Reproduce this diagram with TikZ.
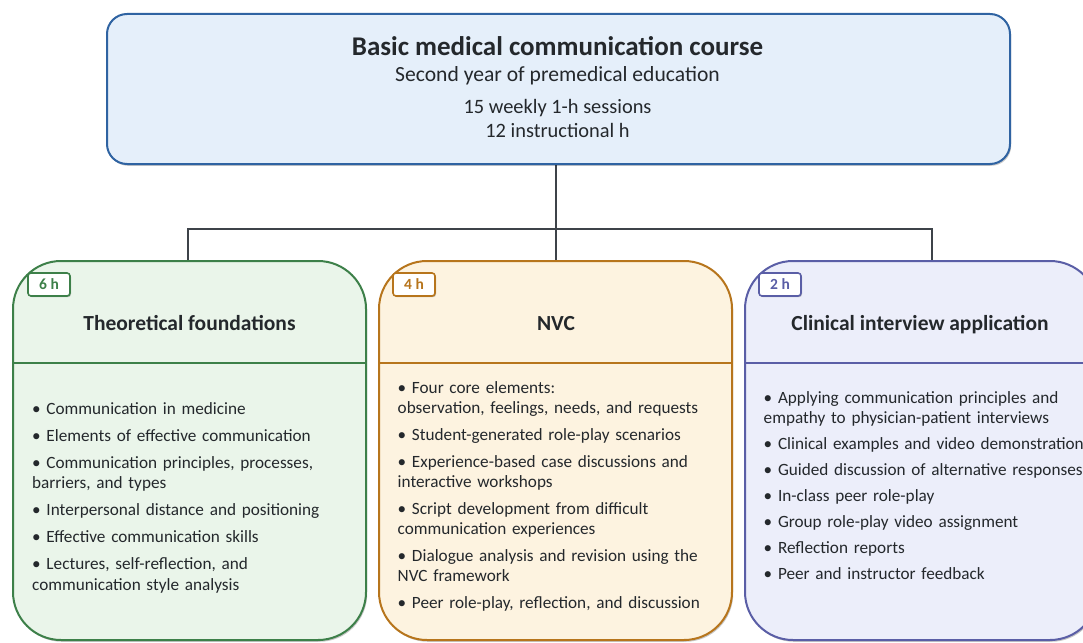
\documentclass[tikz,border=0pt]{standalone}
\usepackage{fontspec}
\setmainfont{Carlito}
\usetikzlibrary{calc,shadows,backgrounds}

\definecolor{inkText}{HTML}{24282C}
\definecolor{connGray}{HTML}{3E4349}
\definecolor{courseFill}{HTML}{E5EFFA}
\definecolor{courseLine}{HTML}{2F63A2}
\definecolor{tfFill}{HTML}{EAF5EA}
\definecolor{tfLine}{HTML}{3D8049}
\definecolor{nvcFill}{HTML}{FDF3E0}
\definecolor{nvcLine}{HTML}{B7751C}
\definecolor{ciaFill}{HTML}{ECEEFA}
\definecolor{ciaLine}{HTML}{5A5EA6}

\begin{document}
\begin{tikzpicture}[
  x=1pt, y=-1pt,
  softshadow/.style={drop shadow={shadow xshift=1.2pt, shadow yshift=-1.8pt, opacity=0.22, fill=black}},
  topbox/.style={draw=courseLine, fill=courseFill, line width=2pt, rounded corners=20pt,
    minimum width=903pt, minimum height=150pt, inner sep=0pt, softshadow},
  colbox/.style 2 args={draw=#1, fill=#2, line width=2pt, rounded corners=48pt,
    minimum width=353pt, minimum height=379pt, inner sep=0pt, softshadow},
  badge/.style={draw=#1, fill=white, text=#1, line width=1.6pt, rounded corners=3pt,
    minimum width=42pt, minimum height=23pt, inner sep=0pt,
    font=\fontsize{15.5}{17}\selectfont\bfseries,
    drop shadow={shadow xshift=1pt, shadow yshift=-1.2pt, opacity=0.25, fill=black}},
  divider/.style={draw=#1, line width=1.6pt},
  coltitle/.style={anchor=base, text=inkText, inner sep=0pt,
    font=\fontsize{21.5}{24}\selectfont\bfseries},
  bodytext/.style={anchor=base west, text=inkText, inner sep=0pt, align=left,
    text width=400pt, font=\fontsize{17.2}{20.5}\selectfont},
  conn/.style={draw=connGray, line width=1.5pt},
]
\useasboundingbox (0,0) rectangle (1083,642);

% course header
\node[topbox] (course) at (558.5,89) {};
\node[anchor=base, text=inkText, inner sep=0pt, font=\fontsize{27}{30}\selectfont\bfseries]
  (courseTitle) at (557.5,55.5) {Basic medical communication course};
\node[anchor=base, text=inkText, inner sep=0pt, font=\fontsize{21.6}{24}\selectfont]
  (courseYear) at (557.5,81.5) {Second year of premedical education};
\node[anchor=base, text=inkText, inner sep=0pt, font=\fontsize{20.4}{23}\selectfont]
  (courseSessions) at (557.5,113.5) {15 weekly 1-h sessions};
\node[anchor=base, text=inkText, inner sep=0pt, font=\fontsize{20.4}{23}\selectfont]
  (courseHours) at (557.5,137.5) {12 instructional h};

% three course components
\node[colbox={tfLine}{tfFill}]   (tf)  at (189.5,450.5) {};
\node[colbox={nvcLine}{nvcFill}] (nvc) at (555.5,450.5) {};
\node[colbox={ciaLine}{ciaFill}] (cia) at (921.5,450.5) {};

\draw[divider=tfLine]  (tf.west |- 0,363)  -- (tf.east |- 0,363);
\draw[divider=nvcLine] (nvc.west |- 0,363) -- (nvc.east |- 0,363);
\draw[divider=ciaLine] (cia.west |- 0,363) -- (cia.east |- 0,363);

% hour badges
\node[badge=tfLine]  (tfHours)  at (49,284.5)  {6 h};
\node[badge=nvcLine] (nvcHours) at (414,284.5) {4 h};
\node[badge=ciaLine] (ciaHours) at (780,284.5) {2 h};

% column titles
\node[coltitle] (tfTitle)  at (189.5,330.5) {Theoretical foundations};
\node[coltitle] (nvcTitle) at (556,330.5)   {NVC};
\node[coltitle] (ciaTitle) at (920,330.5)   {Clinical interview application};

% column contents
\node[bodytext] (tfList) at ($(tf.west |- 0,414)+(20,0)$) {%
• Communication in medicine\\[6.5pt]
• Elements of effective communication\\[6.5pt]
• Communication principles, processes,\\
barriers, and types\\[6.5pt]
• Interpersonal distance and positioning\\[6.5pt]
• Effective communication skills\\[6.5pt]
• Lectures, self-reflection, and\\
communication style analysis};

\node[bodytext] (nvcList) at ($(nvc.west |- 0,393)+(19.5,0)$) {%
• Four core elements:\\
observation, feelings, needs, and requests\\[6pt]
• Student-generated role-play scenarios\\[6.5pt]
• Experience-based case discussions and\\
interactive workshops\\[6pt]
• Script development from difficult\\
communication experiences\\[6pt]
• Dialogue analysis and revision using the\\
NVC framework\\[6.5pt]
• Peer role-play, reflection, and discussion};

\node[bodytext] (ciaList) at ($(cia.west |- 0,403)+(19.5,0)$) {%
• Applying communication principles and\\
empathy to physician-patient interviews\\[5.5pt]
• Clinical examples and video demonstrations\\[5.5pt]
• Guided discussion of alternative responses\\[5.5pt]
• In-class peer role-play\\[5.5pt]
• Group role-play video assignment\\[5.5pt]
• Reflection reports\\[5.5pt]
• Peer and instructor feedback};

% tree connectors
\begin{pgfonlayer}{background}
\coordinate (bus)   at (556,229);
\coordinate (tfIn)  at ($(tf.north)+(-1.5,0)$);
\coordinate (ciaIn) at ($(cia.north)+(10.5,0)$);
\draw[conn] (course.south -| bus) -- (bus);
\draw[conn] (bus) -- (nvc.north -| bus);
\draw[conn] (tfIn) |- (bus) -| (ciaIn);
\end{pgfonlayer}
\end{tikzpicture}
\end{document}
